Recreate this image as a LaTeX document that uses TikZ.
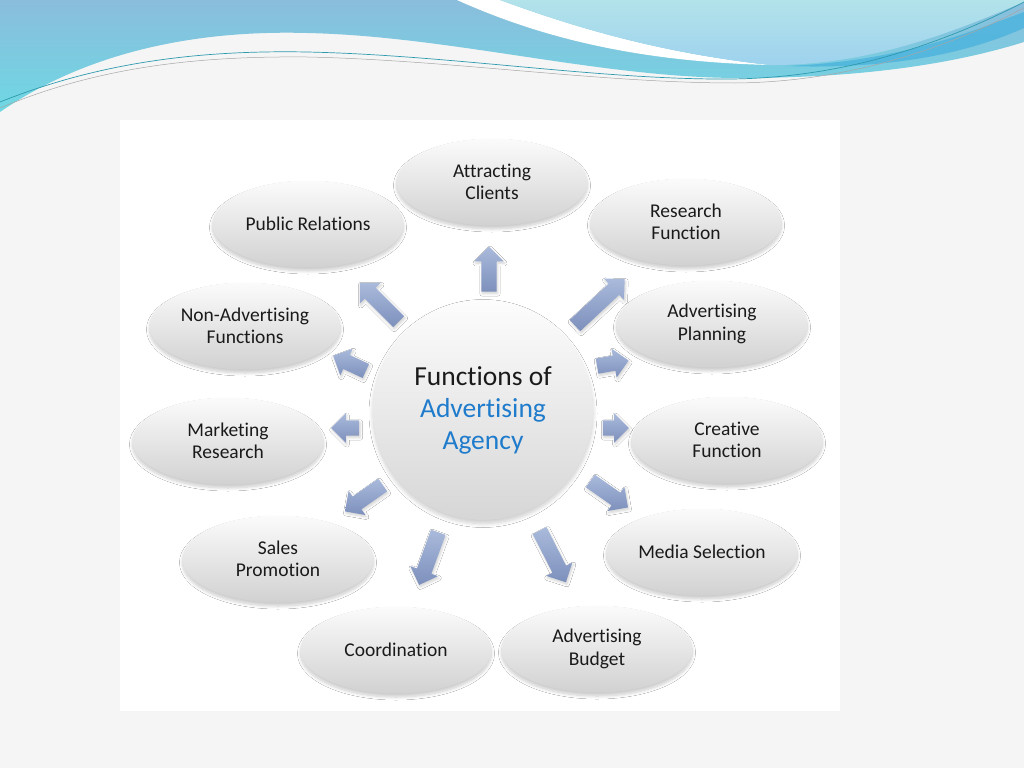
\documentclass[tikz,border=0pt]{standalone}
\usepackage{fontspec}
\setmainfont{Carlito}[Ligatures={NoCommon}]
\usetikzlibrary{shapes.arrows,shapes.geometric,shadows.blur}
\definecolor{bgpage}{HTML}{F5F5F5}
\definecolor{bannerTop}{HTML}{8ABDDC}
\definecolor{bannerBot}{HTML}{6ED8E3}
\definecolor{lightTop}{HTML}{B2E3EA}
\definecolor{lightBot}{HTML}{9ED2EE}
\definecolor{streak}{HTML}{4BB3DD}
\definecolor{lineTeal}{HTML}{2E9AAE}
\definecolor{agencyblue}{HTML}{1F7BCB}
\definecolor{arrTop}{HTML}{A9BADB}
\definecolor{arrBot}{HTML}{7D90BC}
\definecolor{txt}{HTML}{1A1A1A}
\tikzset{
  bubble/.style={ellipse, minimum width=191pt, minimum height=87pt, inner sep=0pt,
    top color=gray!3, bottom color=gray!36, align=center, text=txt,
    font=\fontsize{19.5}{22.5}\selectfont,
    blur shadow={shadow xshift=0pt, shadow yshift=-3.5pt, shadow blur steps=8,
      shadow blur radius=3pt, shadow opacity=20}},
  hub/.style={circle, minimum size=220pt, inner sep=0pt,
    top color=gray!2, bottom color=gray!32, align=center, text=txt,
    font=\fontsize{27.5}{32}\selectfont,
    blur shadow={shadow xshift=0pt, shadow yshift=-3.5pt, shadow blur steps=8,
      shadow blur radius=4pt, shadow opacity=20}},
  blockarrow/.style={single arrow, inner xsep=0pt, inner ysep=7.5pt,
    single arrow head extend=7pt, single arrow tip angle=90,
    top color=arrTop, bottom color=arrBot,
    blur shadow={shadow xshift=1pt, shadow yshift=-2pt, shadow blur steps=5,
      shadow blur radius=2.5pt, shadow opacity=18}},
}
\begin{document}
\begin{tikzpicture}[x=1pt,y=-1pt]
% page background and bounding box
\fill[bgpage] (0,0) rectangle (1024,768);
\useasboundingbox (0,0) rectangle (1024,768);
% banner
\shade[top color=bannerTop, bottom color=bannerBot]
  (0,0) -- (1024,0) -- (1024,42)
  .. controls (960,62) and (870,78) .. (740,78)
  .. controls (600,78) and (450,36) .. (307,33)
  .. controls (200,30) and (90,50) .. (0,112) -- cycle;
\fill[white] (457,0) .. controls (550,42) and (650,62) .. (770,65)
  .. controls (650,52) and (560,22) .. (500,0) -- cycle;
\shade[top color=lightTop, bottom color=lightBot]
  (500,0) .. controls (560,22) and (650,52) .. (770,65)
  .. controls (880,66) and (975,22) .. (1024,2) -- (1024,0) -- cycle;
\fill[streak, opacity=0.8] (785,66) .. controls (900,62) and (975,30) .. (1024,12)
  -- (1024,28) .. controls (975,50) and (900,70) .. (785,66) -- cycle;
\draw[lineTeal, line width=0.7pt] (0,102) .. controls (100,62) and (200,50) .. (307,52)
  .. controls (450,55) and (600,80) .. (730,79) .. controls (850,78) and (950,40) .. (1024,2);
\draw[gray!70, line width=0.5pt] (0,108) .. controls (100,66) and (200,56) .. (307,57)
  .. controls (450,60) and (600,83) .. (735,83) .. controls (855,82) and (955,44) .. (1024,8);
% white panel
\fill[white] (120,120) rectangle (840,711);

% block arrows
\node[blockarrow, minimum height=45pt, rotate=90]   (a1)  at (489,273) {};
\node[blockarrow, minimum height=68pt, rotate=43]   (a2)  at (597,305) {};
\node[blockarrow, minimum height=32pt, rotate=10]   (a3)  at (609,364) {};
\node[blockarrow, minimum height=26pt, rotate=0]    (a4)  at (612,428) {};
\node[blockarrow, minimum height=46pt, rotate=-35]  (a5)  at (606,492) {};
\node[blockarrow, minimum height=58pt, rotate=-63]  (a6)  at (551,553) {};
\node[blockarrow, minimum height=56pt, rotate=-110] (a7)  at (430,555) {};
\node[blockarrow, minimum height=46pt, rotate=-145] (a8)  at (367,496) {};
\node[blockarrow, minimum height=28pt, rotate=180]  (a9)  at (349,428) {};
\node[blockarrow, minimum height=36pt, rotate=155]  (a10) at (353,365) {};
\node[blockarrow, minimum height=55pt, rotate=135]  (a11) at (382,305) {};

% hub
\node[hub] (hub) at (483,410) {Functions of\\\textcolor{agencyblue}{Advertising}\\\textcolor{agencyblue}{Agency}};

% bubbles
\node[bubble] (attract)  at (492,182) {Attracting\\Clients};
\node[bubble] (research) at (686,222) {Research\\Function};
\node[bubble] (planning) at (712,324) {Advertising\\Planning};
\node[bubble] (creative) at (727,440) {Creative\\Function};
\node[bubble] (media)    at (702,552) {Media Selection};
\node[bubble] (budget)   at (597,649) {Advertising\\Budget};
\node[bubble] (coord)    at (396,650) {Coordination};
\node[bubble] (sales)    at (278,559) {Sales\\Promotion};
\node[bubble] (market)   at (228,441) {Marketing\\Research};
\node[bubble] (nonadv)   at (245,326) {Non-Advertising\\Functions};
\node[bubble] (pr)       at (308,224) {Public Relations};
\end{tikzpicture}
\end{document}
